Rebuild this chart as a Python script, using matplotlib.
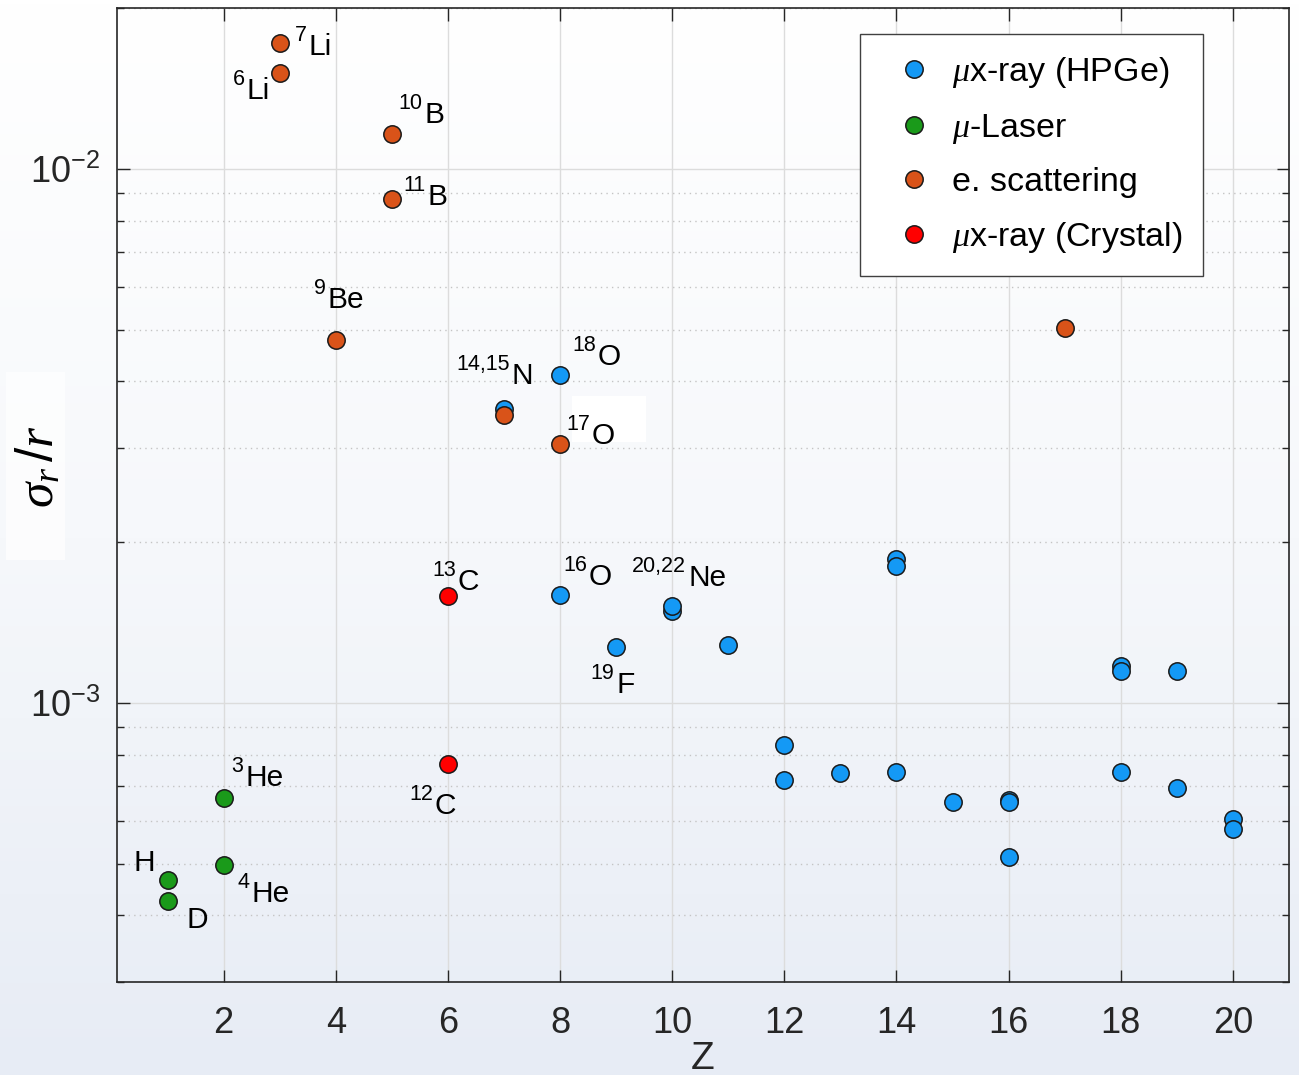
import matplotlib.pyplot as plt
import numpy as np
from matplotlib.colors import LinearSegmentedColormap
from matplotlib.patches import Rectangle
from matplotlib.ticker import LogLocator, NullFormatter, MultipleLocator
from matplotlib.transforms import IdentityTransform

plt.rcParams['font.family'] = ['Liberation Sans', 'DejaVu Sans']
plt.rcParams['mathtext.fontset'] = 'custom'
plt.rcParams['mathtext.rm'] = 'Liberation Sans'
plt.rcParams['mathtext.it'] = 'Liberation Serif:italic'
plt.rcParams['mathtext.bf'] = 'Liberation Sans:bold'

# relative radius uncertainty sigma_r / r against Z, per technique
hpge_z = [7, 8, 8, 9, 10, 10, 11, 12, 12, 13, 14, 14, 14, 15, 16, 16, 16,
          18, 18, 18, 19, 19, 20, 20]
hpge_sigma = [3.55e-3, 4.11e-3, 1.59e-3, 1.27e-3, 1.487e-3, 1.52e-3, 1.284e-3,
              8.32e-4, 7.18e-4, 7.38e-4, 1.856e-3, 1.803e-3, 7.43e-4, 6.52e-4,
              6.57e-4, 6.53e-4, 5.14e-4, 1.171e-3, 1.145e-3, 7.43e-4, 1.145e-3,
              6.92e-4, 6.06e-4, 5.81e-4]

laser_z = [1, 1, 2, 2]
laser_sigma = [4.66e-4, 4.26e-4, 6.64e-4, 4.97e-4]

escat_z = [3, 3, 4, 5, 5, 7, 8, 17]
escat_sigma = [1.722e-2, 1.513e-2, 4.78e-3, 1.163e-2, 8.79e-3, 3.46e-3,
               3.055e-3, 5.04e-3]

crystal_z = [6, 6]
crystal_sigma = [1.587e-3, 7.68e-4]

series_names = [r'$\mu$x-ray (HPGe)', r'$\mu$-Laser', 'e. scattering',
                r'$\mu$x-ray (Crystal)']

# isotope labels (mass number + symbol), attached to the point they name
iso_mass = ['7', '6', '10', '11', '9', '14,15', '18', '17', '13', '16',
            '20,22', '19', '3', '12', '', '4', '']
iso_symbol = ['Li', 'Li', 'B', 'B', 'Be', 'N', 'O', 'O', 'C', 'O', 'Ne', 'F',
              'He', 'C', 'H', 'He', 'D']
iso_z = [3, 3, 5, 5, 4, 7, 8, 8, 6, 8, 10, 9, 2, 6, 1, 2, 1]
iso_sigma = [1.722e-2, 1.513e-2, 1.163e-2, 8.79e-3, 4.78e-3, 3.55e-3, 4.11e-3,
             3.055e-3, 1.587e-3, 1.59e-3, 1.52e-3, 1.27e-3, 6.64e-4, 7.68e-4,
             4.66e-4, 4.97e-4, 4.26e-4]
# symbol baseline offsets from the point in pixels (dx, dy)
iso_offset = [(29, -12), (-10, -26), (33, 11), (36, -6), (-8, 32), (8, 25),
              (38, 10), (32, 0), (10, 6), (29, 10), (16, 20), (0, -46),
              (22, 12), (-13, -50), (-34, 9), (28, -37), (19, -27)]
iso_ha = ['left', 'right'] + ['left'] * 15

colors = ['#1499f5', '#1a9a1a', '#d95319', '#ff0000']

fig = plt.figure(figsize=(12.99, 10.75), dpi=100)

# soft vertical gradient behind everything
bg = fig.add_axes([0, 0, 1, 1], zorder=-10)
grad_cmap = LinearSegmentedColormap.from_list('bg', ['#e7ecf5', '#f6f8fb', '#ffffff'])
bg.imshow(np.linspace(0, 1, 256).reshape(-1, 1), aspect='auto', cmap=grad_cmap,
          origin='lower', extent=[0, 1, 0, 1])
bg.axis('off')

ax = fig.add_axes([0.0901, 0.0865, 0.9022, 0.9060])
ax.set_facecolor('none')
ax.set_yscale('log')
ax.set_xlim(0.1, 21)
ax.set_ylim(3e-4, 2e-2)

marker_kw = dict(linestyle='none', marker='o', markersize=12.5,
                 markeredgecolor='#1a1a1a', markeredgewidth=1.1)
series = [(hpge_z, hpge_sigma), (laser_z, laser_sigma),
          (escat_z, escat_sigma), (crystal_z, crystal_sigma)]
for (z, s), c, name in zip(series, colors, series_names):
    ax.plot(z, s, color=c, markerfacecolor=c, label=name, zorder=3, **marker_kw)

for mass, sym, z, s, (dx, dy), ha in zip(iso_mass, iso_symbol, iso_z, iso_sigma,
                                         iso_offset, iso_ha):
    base = ax.annotate(sym, xy=(z, s), xytext=(dx, dy), textcoords='offset pixels',
                       ha=ha, va='baseline', fontsize=21.5, color='black', zorder=4)
    if mass:
        # mass number sits raised, just left of the symbol
        ax.annotate(mass, xy=(0, 0), xycoords=base, xytext=(-2, 20),
                    textcoords='offset pixels', ha='right', va='baseline',
                    fontsize=15.5, color='black', zorder=4)

# grid and ticks
ax.xaxis.set_major_locator(MultipleLocator(2))
ax.yaxis.set_major_locator(LogLocator(base=10))
ax.yaxis.set_minor_locator(LogLocator(base=10, subs=np.arange(2, 10)))
ax.yaxis.set_minor_formatter(NullFormatter())
ax.grid(True, which='major', color='#dcdcdc', linewidth=1.0, zorder=0)
ax.grid(True, which='minor', axis='y', color='#c4c4c4', linestyle=(0, (1, 3)),
        linewidth=1.0, zorder=0)
ax.tick_params(which='both', direction='in', top=True, right=True,
               colors='#262626', width=1.0)
ax.tick_params(which='major', length=9, labelsize=26, pad=12)
ax.tick_params(axis='x', which='major', pad=17)
ax.tick_params(which='minor', length=5)
for sp in ax.spines.values():
    sp.set_color('#262626')
    sp.set_linewidth(1.2)

ax.set_xlabel('Z', fontsize=28, color='#262626')
ax.xaxis.set_label_coords(0.5, -0.061)
ax.set_ylabel(r'$\sigma_r\,/r$', fontsize=37, color='black', va='center')
ax.yaxis.set_label_coords(-0.066, 0.529)

leg = ax.legend(loc='upper right', bbox_to_anchor=(0.9266, 0.973),
                borderaxespad=0, fontsize=24.5, frameon=True, fancybox=False,
                framealpha=1.0, edgecolor='#404040', labelspacing=0.64,
                borderpad=0.6, handlelength=2.0, handletextpad=0.12,
                numpoints=1)
leg.get_frame().set_linewidth(1.0)

# white patch behind the 17O label and the y label
fig.canvas.draw()
px, py = ax.transData.transform((iso_z[7], iso_sigma[7]))
fig.add_artist(Rectangle((px + 12, py + 2), 74, 46, transform=IdentityTransform(),
                         facecolor='white', edgecolor='none', zorder=-1))
fig.add_artist(Rectangle((6 / 1299, 515 / 1075), 59 / 1299, 188 / 1075,
                         transform=fig.transFigure, facecolor='white',
                         alpha=0.7, edgecolor='none', zorder=-1))

fig.savefig('out.png', dpi=100)
